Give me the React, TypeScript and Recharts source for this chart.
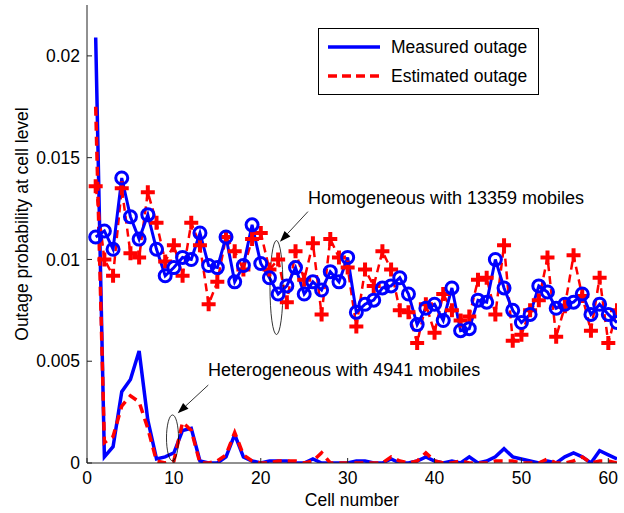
import React from 'react'
import {
  LineChart,
  Line,
  XAxis,
  YAxis,
  Legend,
  ReferenceDot,
  ReferenceLine,
} from 'recharts'

const cells = [
  1, 2, 3, 4, 5, 6, 7, 8, 9, 10, 11, 12, 13, 14, 15, 16, 17, 18, 19, 20,
  21, 22, 23, 24, 25, 26, 27, 28, 29, 30, 31, 32, 33, 34, 35, 36, 37, 38, 39, 40,
  41, 42, 43, 44, 45, 46, 47, 48, 49, 50, 51, 52, 53, 54, 55, 56, 57, 58, 59, 60, 61,
]

// homogeneous network, 13359 mobiles
const homMeasured = [
  0.0111, 0.0114, 0.0105, 0.014, 0.0121, 0.011, 0.0122, 0.0105, 0.0092, 0.0096,
  0.0101, 0.01, 0.0113, 0.0097, 0.0096, 0.0111, 0.0089, 0.0097, 0.0117, 0.0098,
  0.0091, 0.0083, 0.0087, 0.0096, 0.0083, 0.0089, 0.0085, 0.0094, 0.0089, 0.0101,
  0.0074, 0.0078, 0.008, 0.0086, 0.0087, 0.0091, 0.0083, 0.0068, 0.0076, 0.0078,
  0.007, 0.0086, 0.0065, 0.0066, 0.008, 0.0079, 0.01, 0.0086, 0.0075, 0.0069,
  0.0073, 0.0087, 0.0084, 0.0076, 0.0078, 0.0079, 0.0083, 0.0073, 0.0078, 0.0073, 0.0069,
]
const homEstimated = [
  0.0136, 0.01, 0.0092, 0.0135, 0.0103, 0.0101, 0.0133, 0.0118, 0.0099, 0.0107,
  0.0092, 0.0118, 0.0107, 0.0078, 0.0089, 0.0111, 0.0104, 0.0095, 0.011, 0.0113,
  0.0095, 0.01, 0.0079, 0.0104, 0.009, 0.0108, 0.0073, 0.011, 0.0101, 0.0096,
  0.0067, 0.0095, 0.0087, 0.0104, 0.0095, 0.0075, 0.0074, 0.0059, 0.0078, 0.0064,
  0.0083, 0.0075, 0.007, 0.0072, 0.009, 0.0091, 0.0073, 0.0107, 0.006, 0.0063,
  0.0075, 0.008, 0.0101, 0.0062, 0.0077, 0.0102, 0.0082, 0.0065, 0.0091, 0.0059, 0.0075,
]

// heterogeneous network, 4941 mobiles
const hetMeasured = [
  0.0209, 0.0003, 0.0008, 0.0035, 0.0041, 0.0055, 0.0021, 0.0002, 0.0003, 0.0005,
  0.0016, 0.0017, 0.0001, 0, 0, 0.0003, 0.0014, 0.0003, 0.0001, 0,
  0.0001, 0.0001, 0.0001, 0, 0, 0.0002, 0, 0, 0, 0,
  0.0001, 0.0001, 0, 0, 0.0002, 0, 0, 0.0001, 0.0003, 0.0001,
  0, 0.0001, 0, 0.0003, 0, 0.0001, 0.0003, 0.0007, 0.0003, 0.0002,
  0.0001, 0, 0.0001, 0, 0.0003, 0.0005, 0.0003, 0, 0.0006, 0.0004, 0.0002,
]
const hetEstimated = [
  0.0175, 0.001, 0.0013, 0.0028, 0.0033, 0.003, 0.0017, 0.0001, 0, 0.0001,
  0.002, 0.0016, 0, 0, 0.0001, 0.0004, 0.0015, 0.0004, 0.0001, 0,
  0, 0.0001, 0.0001, 0.0001, 0, 0.0001, 0.0005, 0, 0, 0,
  0, 0, 0, 0, 0.0003, 0.0001, 0, 0.0001, 0.0005, 0.0001,
  0, 0, 0.0001, 0, 0, 0, 0.0001, 0.0001, 0.0001, 0,
  0, 0, 0.0002, 0, 0, 0.0001, 0.0003, 0, 0.0001, 0.0001, 0,
]

const xTicks = [0, 10, 20, 30, 40, 50, 60]
const yTicks = [0, 0.005, 0.01, 0.015, 0.02]

const BLUE = '#0000FF'
const RED = '#FF0000'
const FONT = "Arial, 'Liberation Sans', sans-serif"

const rows = cells.map((cell, i) => ({
  cell,
  homMeasured: homMeasured[i],
  homEstimated: homEstimated[i],
  hetMeasured: hetMeasured[i],
  hetEstimated: hetEstimated[i],
}))

function CircleDot(props: any) {
  const { cx, cy, index } = props
  if (cx == null || cy == null) return null
  return <circle key={index} cx={cx} cy={cy} r={6} fill="none" stroke={BLUE} strokeWidth={3} />
}

function PlusDot(props: any) {
  const { cx, cy, index } = props
  if (cx == null || cy == null) return null
  return (
    <path
      key={index}
      d={`M${cx - 7},${cy}H${cx + 7}M${cx},${cy - 7}V${cy + 7}`}
      stroke={RED}
      strokeWidth={4}
      fill="none"
    />
  )
}

function Ellipse(props: any) {
  const { cx, cy, rx, ry } = props
  return <ellipse cx={cx} cy={cy} rx={rx} ry={ry} fill="none" stroke="#000" strokeWidth={0.8} />
}

function Arrow(props: any) {
  const { x1, y1, x2, y2 } = props
  const a = Math.atan2(y2 - y1, x2 - x1)
  const len = 11
  const w = 4
  const bx = x2 - len * Math.cos(a)
  const by = y2 - len * Math.sin(a)
  const px = -Math.sin(a) * w
  const py = Math.cos(a) * w
  return (
    <g>
      <line x1={x1} y1={y1} x2={bx} y2={by} stroke="#000" strokeWidth={0.8} />
      <polygon points={`${x2},${y2} ${bx + px},${by + py} ${bx - px},${by - py}`} fill="#000" />
    </g>
  )
}

function YTitle() {
  return (
    <text
      x={22}
      y={224}
      transform="rotate(-90 22 224)"
      textAnchor="middle"
      dominantBaseline="central"
      fontSize={17.5}
      fontFamily={FONT}
      fill="#000"
    >
      Outage probability at cell level
    </text>
  )
}

function LegendBox() {
  return (
    <svg width={221} height={67} style={{ display: 'block' }}>
      <rect x={0.5} y={0.5} width={220} height={66} fill="#fff" stroke="#000" strokeWidth={1} />
      <line x1={10} y1={19} x2={62} y2={19} stroke={BLUE} strokeWidth={3.5} />
      <line x1={10} y1={48} x2={62} y2={48} stroke={RED} strokeWidth={3.5} strokeDasharray="9 5" />
      <text x={73} y={25} fontSize={17.5} fontFamily={FONT} fill="#000">
        Measured outage
      </text>
      <text x={73} y={54} fontSize={17.5} fontFamily={FONT} fill="#000">
        Estimated outage
      </text>
    </svg>
  )
}

const tickStyle = { fontSize: 17.5, fill: '#000', fontFamily: FONT }

export default function App() {
  return (
    <div style={{ position: 'absolute', left: 0, top: 0, width: 624, height: 513, background: '#fff' }}>
      <LineChart width={624} height={513} data={rows} margin={{ top: 5, right: 7, bottom: 0, left: 0 }}>
        <XAxis
          dataKey="cell"
          type="number"
          domain={[0, 61]}
          ticks={xTicks}
          height={50}
          tickSize={-5}
          tickMargin={14}
          tick={tickStyle}
          stroke="#222"
          allowDataOverflow
          label={{ value: 'Cell number', position: 'insideBottom', offset: 7, fill: '#000', fontSize: 17.5, fontFamily: FONT }}
        />
        <XAxis
          xAxisId="top"
          orientation="top"
          type="number"
          domain={[0, 61]}
          ticks={xTicks}
          height={0}
          tickSize={-5}
          tick={false}
          stroke="#222"
        />
        <YAxis
          type="number"
          domain={[0, 0.0225]}
          ticks={yTicks}
          width={87}
          tickSize={-5}
          tickMargin={12}
          tick={tickStyle}
          stroke="#222"
          allowDataOverflow
          label={<YTitle />}
        />
        <YAxis
          yAxisId="right"
          orientation="right"
          type="number"
          domain={[0, 0.0225]}
          ticks={yTicks}
          width={0}
          tickSize={-5}
          tick={false}
          stroke="#222"
        />
        <Legend
          layout="vertical"
          align="center"
          verticalAlign="middle"
          content={<LegendBox />}
          wrapperStyle={{ left: 318, top: 28, width: 221, height: 67 }}
        />

        <Line
          dataKey="hetMeasured"
          stroke={BLUE}
          strokeWidth={3.5}
          dot={false}
          activeDot={false}
          isAnimationActive={false}
          legendType="none"
        />
        <Line
          dataKey="hetEstimated"
          stroke={RED}
          strokeWidth={3.5}
          strokeDasharray="9 6"
          dot={false}
          activeDot={false}
          isAnimationActive={false}
          legendType="none"
        />
        <Line
          dataKey="homEstimated"
          stroke={RED}
          strokeWidth={2.5}
          strokeDasharray="8 5"
          dot={<PlusDot />}
          activeDot={false}
          isAnimationActive={false}
        />
        <Line
          dataKey="homMeasured"
          stroke={BLUE}
          strokeWidth={3}
          dot={<CircleDot />}
          activeDot={false}
          isAnimationActive={false}
        />

        {/* annotations */}
        <ReferenceDot x={21.81} y={0.00862} r={0} shape={(p: any) => <Ellipse cx={p.cx} cy={p.cy} rx={6.5} ry={47} />} />
        <ReferenceLine
          segment={[{ x: 25.43, y: 0.01235 }, { x: 22.21, y: 0.01087 }]}
          shape={(p: any) => <Arrow {...p} />}
        />
        <ReferenceDot
          x={25.43}
          y={0.01302}
          r={0}
          shape={(p: any) => (
            <text x={p.cx} y={p.cy} dominantBaseline="central" fontSize={18} fontFamily={FONT} fill="#000">
              Homogeneous with 13359 mobiles
            </text>
          )}
        />
        <ReferenceDot x={9.84} y={0.00123} r={0} shape={(p: any) => <Ellipse cx={p.cx} cy={p.cy} rx={6} ry={23} />} />
        <ReferenceLine
          segment={[{ x: 13.96, y: 0.00383 }, { x: 10.44, y: 0.00244 }]}
          shape={(p: any) => <Arrow {...p} />}
        />
        <ReferenceDot
          x={13.93}
          y={0.00457}
          r={0}
          shape={(p: any) => (
            <text x={p.cx} y={p.cy} dominantBaseline="central" fontSize={18} fontFamily={FONT} fill="#000">
              Heterogeneous with 4941 mobiles
            </text>
          )}
        />
      </LineChart>
    </div>
  )
}
